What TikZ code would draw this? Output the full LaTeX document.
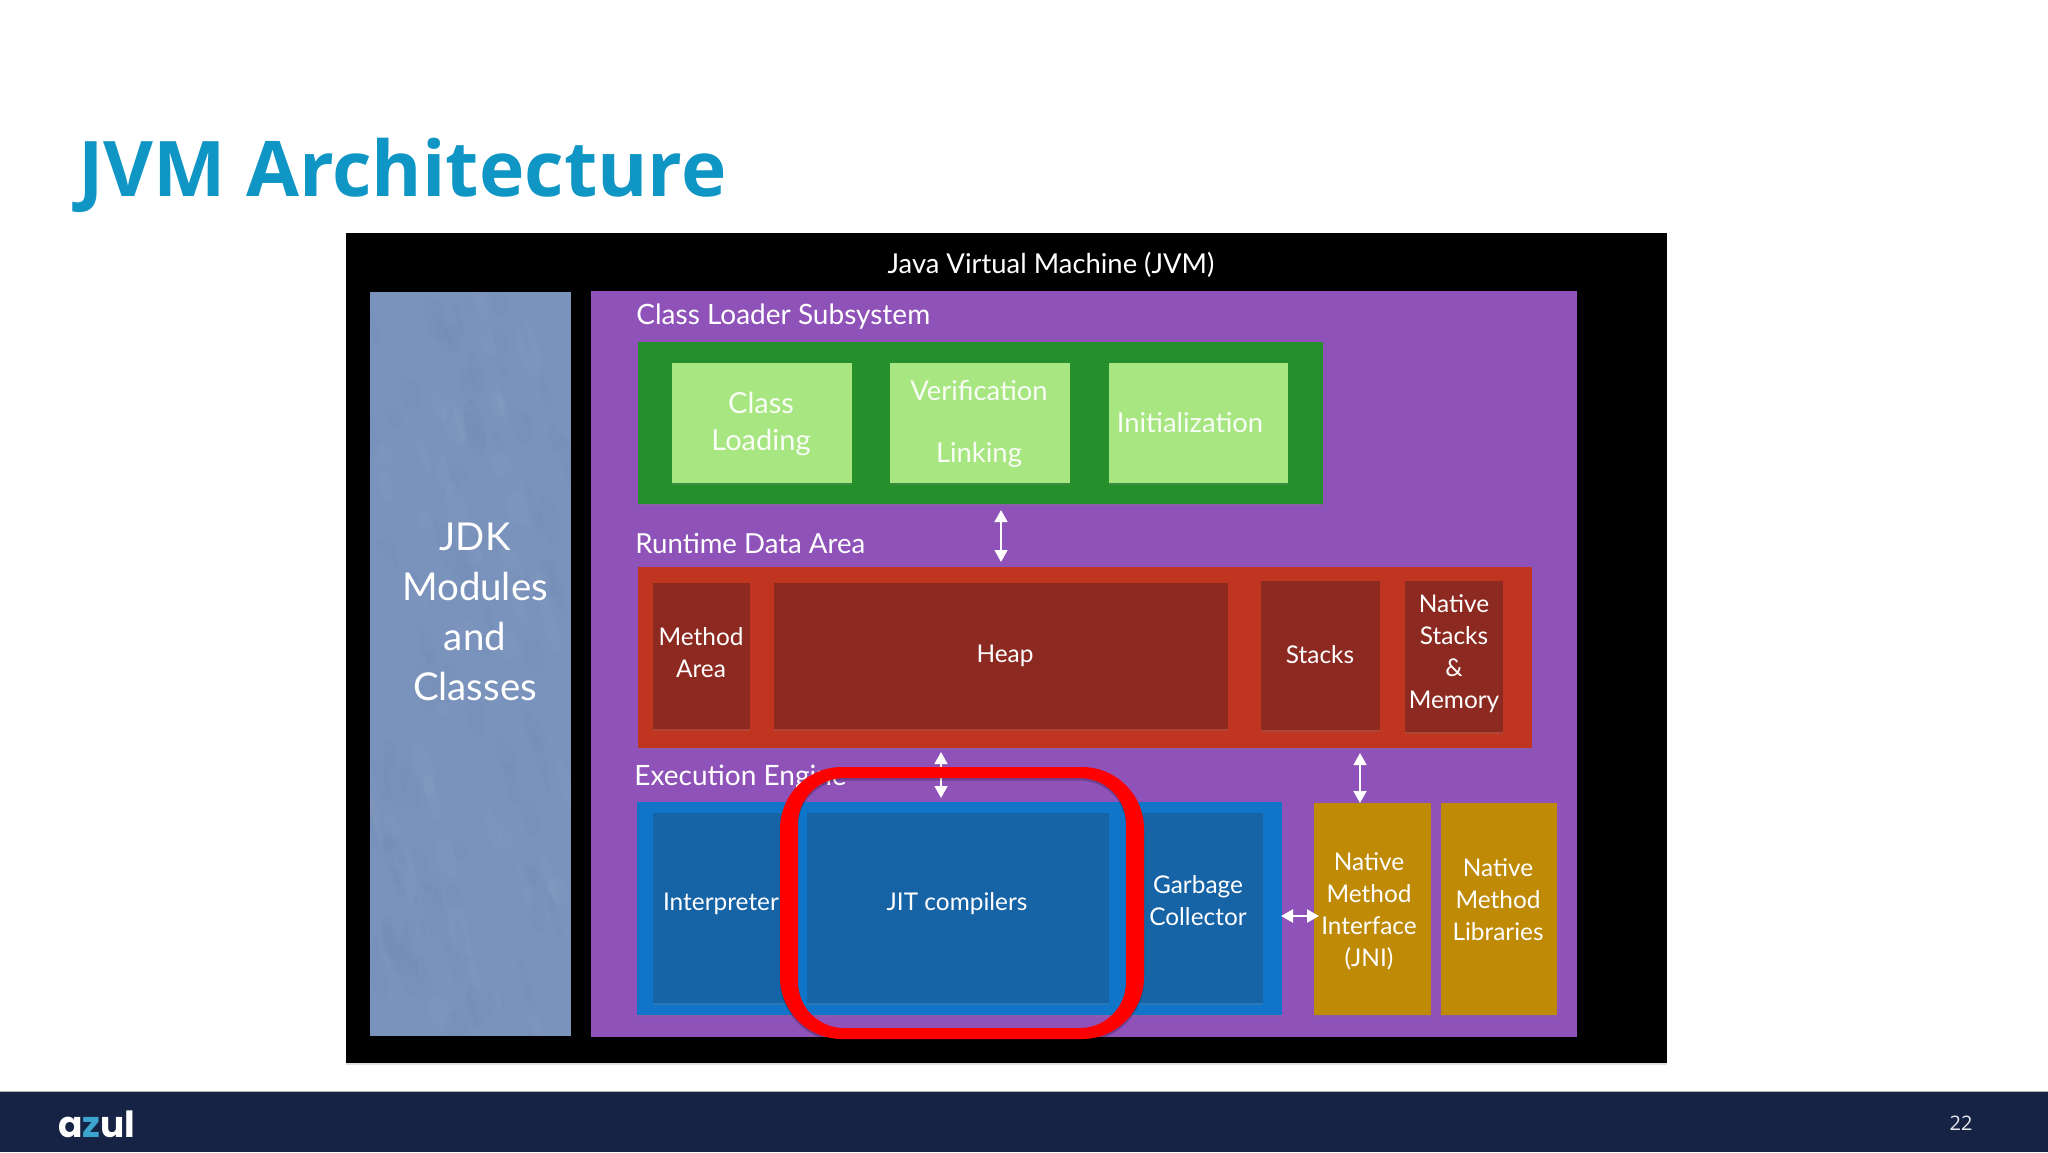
\documentclass[tikz,border=0pt]{standalone}
\usepackage{fontspec}
\setmainfont{Lato}
\newfontfamily\titlefont{Open Sans}
\newfontfamily\logofont{Poppins}
\usetikzlibrary{arrows.meta,shadows}
\definecolor{cPurple}{HTML}{8F52B8}
\definecolor{cGreen}{HTML}{25902B}
\definecolor{cLight}{HTML}{A8E682}
\definecolor{cRed}{HTML}{BF3520}
\definecolor{cDarkRed}{HTML}{8C2A22}
\definecolor{cBlue}{HTML}{1075C8}
\definecolor{cDarkBlue}{HTML}{1663A6}
\definecolor{cGold}{HTML}{BF8A06}
\definecolor{cMarble}{HTML}{7A93BC}
\definecolor{cFoot}{HTML}{172344}
\definecolor{cTitle}{HTML}{0F96C4}
\definecolor{cZ}{HTML}{3BA5D0}
\newcommand{\bx}[6]{\node[box,#6,minimum width={(#4-#2)*0.5pt},minimum height={(#5-#3)*0.5pt}] (#1) at ({(#2+#4)/2},{(#3+#5)/2}) {};}
\tikzset{
  box/.style={rectangle,draw=none,inner sep=0pt,outer sep=0pt},
  soft/.style={drop shadow={opacity=.22,shadow xshift=0pt,shadow yshift=-1pt}},
  lab/.style={text=white,inner sep=0pt,align=center,font=\fontsize{12.2}{16}\selectfont},
  head/.style={text=white,inner sep=0pt,anchor=west,font=\fontsize{14}{17}\selectfont},
  light/.style={lab,text=white!92!cLight,font=\fontsize{13.7}{17}\selectfont},
  dbl/.style={draw=white,line width=1.1pt,{Triangle[width=6.4pt,length=6pt,fill=white]}-{Triangle[width=6.4pt,length=6pt,fill=white]}}
}
\begin{document}
\begin{tikzpicture}[x=0.5pt,y=-0.5pt]
\useasboundingbox (0,0) rectangle (2048,1152);
\fill[white] (0,0) rectangle (2048,1152);
\node[anchor=base west,inner sep=0pt,text=cTitle,font=\titlefont\bfseries\fontsize{38.4}{44}\selectfont] (title) at (78,196) {JVM Architecture};
% black frame
\bx{jvm}{346}{233}{1667}{1063}{fill=black,drop shadow={opacity=.25,shadow xshift=0pt,shadow yshift=-1pt}}
\node[lab,font=\fontsize{13.7}{17}\selectfont] (jvmt) at (1051,265) {Java Virtual Machine (JVM)};
% JDK panel
\bx{jdk}{370}{292}{571}{1036}{fill=cMarble}
\begin{scope}
\clip (370,292) rectangle (571,1036);
\pgfmathsetseed{7}
\foreach \i in {1,...,140}{
  \pgfmathsetmacro{\px}{370+201*rnd}
  \pgfmathsetmacro{\py}{292+744*rnd}
  \pgfmathsetmacro{\rx}{3+8*rnd}
  \pgfmathsetmacro{\ry}{8+22*rnd}
  \pgfmathsetmacro{\op}{mod(\i,3)==0 ? 1 : 0}
  \ifdim\op pt=1pt
    \fill[white,opacity=.025,rotate around={15:(\px,\py)}] (\px,\py) ellipse [x radius=\rx,y radius=\ry];
  \else
    \fill[cMarble!70!black,opacity=.035,rotate around={15:(\px,\py)}] (\px,\py) ellipse [x radius=\rx,y radius=\ry];
  \fi
}
\end{scope}
\node[lab,font=\fontsize{19.2}{25}\selectfont] (jdkt) at (475,612) {JDK\\Modules\\and\\Classes};
% purple
\bx{main}{591}{291}{1577}{1037}{fill=cPurple}
\node[head] (clt) at (636,317) {Class Loader Subsystem};
\node[head,font=\fontsize{13.8}{17}\selectfont] (rdt) at (635,543) {Runtime Data Area};
\node[head] (eet) at (634,778) {Execution Engine};
% class loader
\bx{green}{638}{342}{1323}{504}{fill=cGreen,soft}
\bx{load}{672}{363}{852}{483}{fill=cLight,soft}
\bx{link}{890}{363}{1070}{483}{fill=cLight,soft}
\bx{init}{1109}{363}{1288}{483}{fill=cLight,soft}
\node[light,font=\fontsize{14.5}{18.5}\selectfont] (loadt) at (761,424) {Class\\Loading};
\node[light] (vert) at (979,391) {Verification};
\node[light] (lint) at (979,455) {Linking};
\node[light] (initt) at (1190,423) {Initialization};
% runtime
\bx{runtime}{638}{567}{1532}{748}{fill=cRed,soft}
\bx{method}{653}{583}{750}{729}{fill=cDarkRed,soft}
\bx{heap}{774}{583}{1228}{729}{fill=cDarkRed,soft}
\bx{stacks}{1261}{581}{1380}{730}{fill=cDarkRed,soft}
\bx{native}{1405}{581}{1503}{732}{fill=cDarkRed,soft}
\node[lab] (metht) at (701,653) {Method\\Area};
\node[lab] (heapt) at (1005,656) {Heap};
\node[lab] (stackt) at (1320,655) {Stacks};
\node[lab] (natt) at (1454,654) {Native\\Stacks\\\&\\Memory};
% execution
\bx{exec}{637}{802}{1282}{1015}{fill=cBlue,soft}
\bx{interp}{653}{813}{790}{1003}{fill=cDarkBlue,soft}
\bx{jit}{807}{813}{1109}{1003}{fill=cDarkBlue,soft}
\bx{gc}{1126}{813}{1263}{1003}{fill=cDarkBlue,soft}
\bx{jni}{1314}{803}{1431}{1015}{fill=cGold,soft}
\bx{libs}{1441}{803}{1557}{1015}{fill=cGold,soft}
\node[lab] (intt) at (721,904) {Interpreter};
\node[lab] (jitt) at (957,904) {JIT compilers};
\node[lab] (gct) at (1198,901) {Garbage\\Collector};
\node[lab] (jnit) at (1369,911) {Native\\Method\\Interface\\(JNI)};
\node[lab] (libt) at (1498,900) {Native\\Method\\Libraries};
% connectors
\coordinate (ax1) at (1001,0);
\coordinate (ax2) at (941,0);
\coordinate (ax3) at (1360,0);
\coordinate (ah1) at (1281,916);
\coordinate (ah2) at (1319,916);
\draw[dbl,shorten <=3pt,shorten >=2.5pt] (green.south -| ax1) -- (runtime.north -| ax1);
\draw[dbl,shorten <=2pt,shorten >=2pt] (runtime.south -| ax2) -- (exec.north -| ax2);
\draw[dbl,shorten <=2.5pt] (runtime.south -| ax3) -- (jni.north -| ax3);
\draw[dbl,line width=1.4pt] (ah1) -- (ah2);
% highlight ring
\fill[black,opacity=.22,even odd rule,rounded corners=31pt] (780,769.5) rectangle (1144,1041.5) [rounded corners=23pt] (798,780.5) rectangle (1126,1030.5);
\fill[red,even odd rule,rounded corners=31pt] (780,767) rectangle (1144,1039) [rounded corners=23pt] (798,778) rectangle (1126,1028);
% footer
\bx{foot}{0}{1091}{2048}{1152}{fill=cFoot}
\draw[gray!60,line width=.4pt] (foot.north west) -- (foot.north east);
\node[anchor=base west,inner sep=0pt,text=white,font=\logofont\bfseries\fontsize{18}{22}\selectfont] (logo) at (58,1137) {a\textcolor{cZ}{z}ul};
\node[text=white!90!cFoot,inner sep=0pt,font=\titlefont\fontsize{10}{12}\selectfont] (page) at (1961,1123) {22};
\end{tikzpicture}
\end{document}
